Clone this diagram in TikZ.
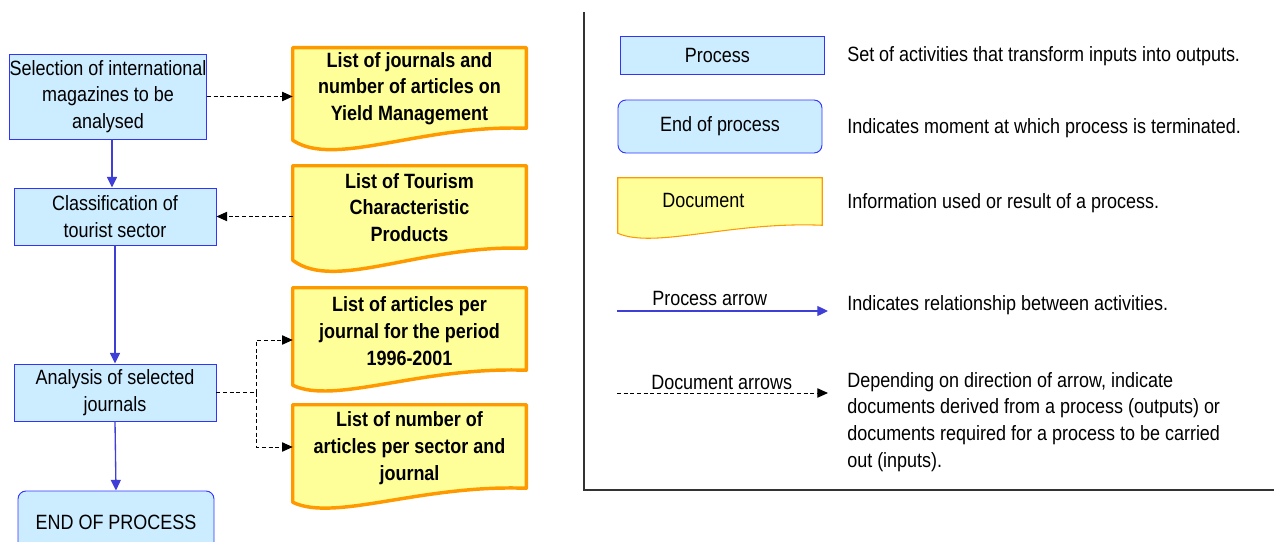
\documentclass[tikz,border=0pt]{standalone}
\usepackage{fontspec}
\setmainfont{Liberation Sans}[FakeStretch=0.87]
\usetikzlibrary{arrows.meta,calc,backgrounds}
\definecolor{pfill}{HTML}{CCECFF}
\definecolor{pdraw}{HTML}{3333FF}
\definecolor{parrow}{HTML}{3F3FD8}
\definecolor{dfill}{HTML}{FFFF99}
\definecolor{ddraw}{HTML}{FF9900}
\definecolor{frame}{HTML}{333333}
\newcommand\basefont{\fontsize{15.5pt}{20pt}\selectfont}
% #1 node, #2 style, #3 extension below node, #4 rise of right end, #5 dip
\newcommand\docshape[5]{%
  \draw[#2] (#1.north west) -- (#1.north east)
    -- ($(#1.south east)+(0,#3-#4)$)
    .. controls ($(#1.south west)!0.55!(#1.south east)+(0,#3-#4-4)$)
       and ($(#1.south west)!0.18!(#1.south east)+(0,#3+4*#5)$)
    .. ($(#1.south west)+(0,#3)$) -- cycle;}
\begin{document}
\begin{tikzpicture}[x=0.75pt,y=-0.75pt,font=\basefont,
  proc/.style={draw=pdraw,fill=pfill,line width=0.7pt,align=center,inner sep=0pt},
  doctext/.style={align=center,inner sep=0pt,font=\basefont\bfseries,minimum width=174.75pt},
  docthick/.style={draw=ddraw,fill=dfill,line width=2.6pt,line join=round},
  docthin/.style={draw=ddraw,fill=dfill,line width=0.8pt},
  procarrow/.style={draw=parrow,line width=1pt,-{Triangle[length=8pt,width=7.5pt]}},
  docarrow/.style={draw=black,line width=0.75pt,dash pattern=on 3pt off 2pt,-{Triangle[length=8pt,width=7pt]}},
  desc/.style={anchor=west,inner sep=0pt,align=left}]
\useasboundingbox (0,0) rectangle (1274,542);
\clip (0,0) rectangle (1274,542);

% process boxes
\node[proc,minimum width=147pt,minimum height=63.75pt] (A) at (108,96.5) {Selection of international\\magazines to be\\analysed};
\node[proc,minimum width=151.5pt,minimum height=42.75pt] (B) at (115,216.5) {Classification of\\tourist sector};
\node[proc,minimum width=151.5pt,minimum height=42.75pt] (C) at (115,392.5) {Analysis of selected\\journals};
\node[proc,rounded corners=6pt,minimum width=147pt,minimum height=46.5pt] (E) at (116,522) {END OF PROCESS};

% documents
\node[doctext,minimum height=60.75pt] (D1) at (409.5,88.5) {List of journals and\\number of articles on\\Yield Management};
\node[doctext,minimum height=62.25pt] (D2) at (409.5,207.5) {List of Tourism\\Characteristic\\Products};
\node[doctext,minimum height=64.5pt] (D3) at (409.5,331) {List of articles per\\journal for the period\\1996-2001};
\node[doctext,minimum height=64.5pt] (D4) at (409.5,448) {List of number of\\articles per sector and\\journal};
\begin{scope}[on background layer]
\docshape{D1}{docthick}{11}{12}{7}
\docshape{D2}{docthick}{11}{12}{8}
\docshape{D3}{docthick}{11}{15}{5}
\docshape{D4}{docthick}{11}{14}{5}
\end{scope}

% process arrows
\draw[procarrow] ([xshift=3pt]A.south) -- ([xshift=3pt]A.south |- B.north);
\draw[procarrow] (B.south) -- (C.north);
\draw[procarrow] (C.south) -- (E.north);

% document arrows
\draw[docarrow] (A.east) -- (A.east -| D1.west);
\draw[docarrow] (D2.west |- B.east) -- (B.east);
\draw[docarrow] (C.east) -- ++(40,0) |- ([yshift=-6.75pt]D3.west);
\draw[docarrow] (C.east) -- ++(40,0) |- ([yshift=0.75pt]D4.west);

% legend frame
\coordinate (f1) at (584,12);
\coordinate (f2) at (584,490);
\coordinate (f3) at (1274,490);
\draw[frame,line width=0.9pt] (f1) -- (f2) -- (f3);

% legend symbols
\node[proc,minimum width=153pt,minimum height=28.5pt] (LP) at (722,55) {Process\hspace*{7pt}};
\node[proc,rounded corners=6pt,minimum width=153pt,minimum height=39.75pt] (LE) at (720,126.5) {End of process};
\node[inner sep=0pt,minimum width=153pt,minimum height=33pt] (LD) at (720,200) {Document\hspace*{25pt}};
\begin{scope}[on background layer]
\docshape{LD}{docthin}{11}{8}{4}
\end{scope}

\coordinate (pa1) at (617,311);
\coordinate (pa2) at (828,311);
\draw[procarrow,line width=0.9pt] (pa1) -- (pa2);
\node[anchor=base west,inner sep=0pt] (PAL) at (652,305) {Process arrow};

\coordinate (da1) at (617,393);
\coordinate (da2) at (828,393);
\draw[docarrow] (da1) -- (da2);
\node[anchor=base west,inner sep=0pt] (DAL) at (651,389) {Document arrows};

% descriptions
\node[desc] (T1) at (847,56) {Set of activities that transform inputs into outputs.};
\node[desc] (T2) at (847,128) {Indicates moment at which process is terminated.};
\node[desc] (T3) at (847,203) {Information used or result of a process.};
\node[desc] (T4) at (847,305) {Indicates relationship between activities.};
\node[desc,anchor=north west] (T5) at (847,372) {Depending on direction of arrow, indicate\\documents derived from a process (outputs) or\\documents required for a process to be carried\\out (inputs).};
\end{tikzpicture}
\end{document}
